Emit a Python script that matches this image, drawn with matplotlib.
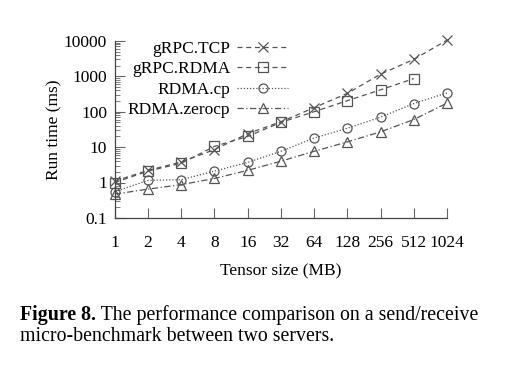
import matplotlib
matplotlib.use("Agg")
import matplotlib.pyplot as plt
import numpy as np
from matplotlib.ticker import FixedLocator, NullLocator, FixedFormatter, LogLocator

plt.rcParams['font.family'] = ['Liberation Serif', 'DejaVu Serif']

# Data
sizes = [1, 2, 4, 8, 16, 32, 64, 128, 256, 512, 1024]
size_labels = ['1', '2', '4', '8', '16', '32', '64', '128', '256', '512', '1024']
grpc_tcp = [1.1, 2.2, 3.8, 8.5, 24, 52, 130, 330, 1150, 3000, 10500]
grpc_rdma = [1.0, 2.1, 3.5, 10.5, 20, 50, 100, 205, 415, 860]
rdma_cp = [0.55, 1.15, 1.2, 2.1, 3.7, 7.6, 18, 34, 70, 170, 340]
rdma_zerocp = [0.47, 0.65, 0.87, 1.3, 2.2, 4.0, 7.6, 14, 27, 60, 175]

y_ticks = [0.1, 1, 10, 100, 1000, 10000]
y_tick_labels = ['0.1', '1', '10', '100', '1000', '10000']

fig = plt.figure(figsize=(5.08, 3.65), dpi=100)
ax = fig.add_axes([0.226, 0.403, 0.654, 0.485])

lc = '#555555'
lw = 0.9
common = dict(color=lc, lw=lw, mew=0.9, clip_on=False)
ax.plot(sizes, grpc_tcp, linestyle=(0, (4, 3)), marker='x', ms=7,
        label='gRPC.TCP', **common)
ax.plot(sizes[:len(grpc_rdma)], grpc_rdma, linestyle=(0, (4, 3)), marker='s',
        ms=6.5, mfc='none', label='gRPC.RDMA', **common)
ax.plot(sizes, rdma_cp, linestyle=(0, (1, 1.5)), marker='o', ms=6.5,
        mfc='none', label='RDMA.cp', **common)
ax.plot(sizes, rdma_zerocp, linestyle=(0, (5, 2, 1, 2)), marker='^', ms=6.5,
        mfc='none', label='RDMA.zerocp', **common)

ax.set_xscale('log', base=2)
ax.set_yscale('log')
ax.set_xlim(1, 1024)
ax.set_ylim(0.1, 10000)

ax.xaxis.set_major_locator(FixedLocator(sizes))
ax.xaxis.set_major_formatter(FixedFormatter(size_labels))
ax.xaxis.set_minor_locator(NullLocator())
ax.yaxis.set_major_locator(FixedLocator(y_ticks))
ax.yaxis.set_major_formatter(FixedFormatter(y_tick_labels))
ax.yaxis.set_minor_locator(LogLocator(base=10, subs=np.arange(2, 10)))

for side in ['top', 'right']:
    ax.spines[side].set_visible(False)
for side in ['left', 'bottom']:
    ax.spines[side].set_color('#444444')
    ax.spines[side].set_linewidth(0.9)

ax.tick_params(which='major', direction='in', length=7, width=0.8,
               color='#666666', labelsize=12.5)
ax.tick_params(axis='x', which='major', pad=12)
ax.tick_params(axis='y', which='major', pad=5.5)
ax.tick_params(which='minor', direction='in', length=3.5, width=0.6,
               color='#666666')

ax.set_xlabel('Tensor size (MB)', fontsize=12.5, labelpad=9)
ax.set_ylabel('Run time (ms)', fontsize=12.5, labelpad=1)

ax.legend(loc='upper left', bbox_to_anchor=(0.008, 1.06), frameon=False,
          markerfirst=False, fontsize=12.5, handlelength=2.9,
          labelspacing=0.25, handletextpad=0.4, borderaxespad=0.2)

# caption: bold "Figure 8." followed by regular text
cap_size = 14.3
t1 = fig.text(0.039, 0.123, 'Figure 8.', fontsize=cap_size, weight='bold',
              va='baseline')
renderer = fig.canvas.get_renderer()
bb = t1.get_window_extent(renderer).transformed(fig.transFigure.inverted())
fig.text(bb.x1, 0.123, ' The performance comparison on a send/receive',
         fontsize=cap_size, va='baseline')
fig.text(0.039, 0.066, 'micro-benchmark between two servers.', fontsize=cap_size,
         va='baseline')

plt.savefig('out.png', dpi=100)
